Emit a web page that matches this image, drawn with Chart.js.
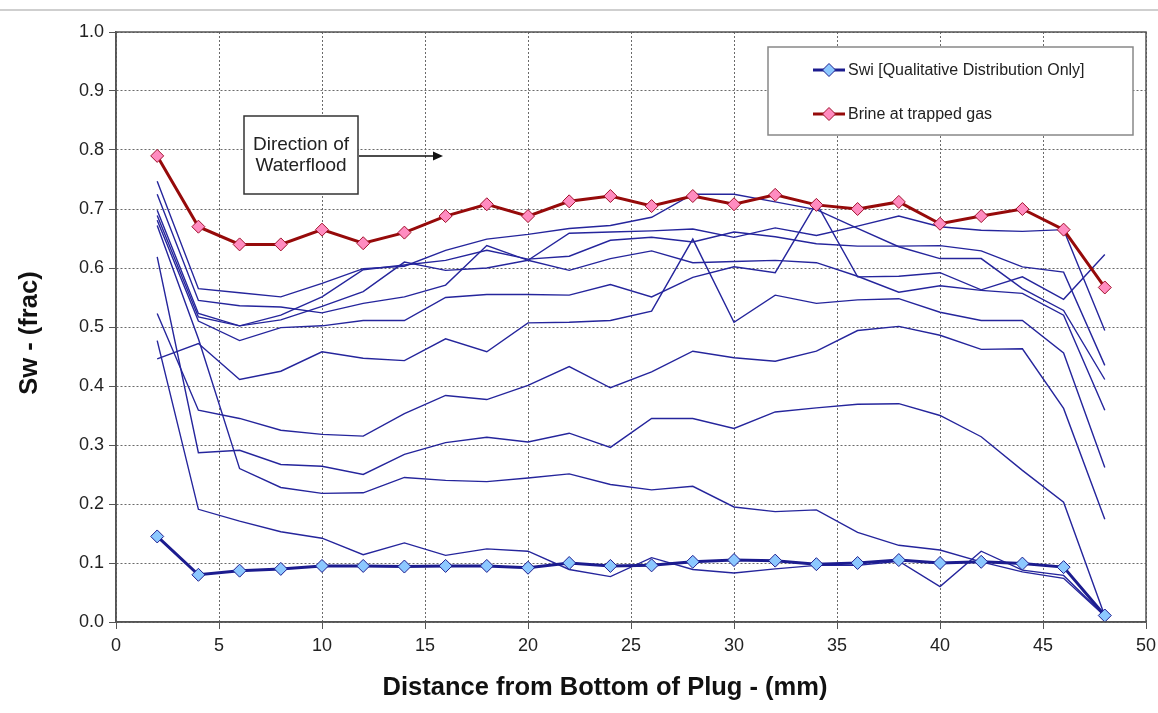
<!DOCTYPE html>
<html><head><meta charset="utf-8">
<script src="https://cdn.jsdelivr.net/npm/chart.js@4"></script>
<style>html,body{margin:0;padding:0;background:#fff;}#wrap{width:1158px;height:713px;position:relative}</style>
</head><body><div id="wrap"><canvas id="c" width="1158" height="713"></canvas></div>
<script>
const distance = [2,4,6,8,10,12,14,16,18,20,22,24,26,28,30,32,34,36,38,40,42,44,46,48];
const swi   = [0.145,0.080,0.087,0.090,0.095,0.095,0.094,0.095,0.095,0.092,0.100,0.095,0.096,0.102,0.105,0.104,0.098,0.100,0.105,0.100,0.102,0.099,0.093,0.011];
const brine = [0.790,0.670,0.640,0.640,0.665,0.642,0.660,0.688,0.708,0.688,0.713,0.722,0.705,0.722,0.708,0.724,0.707,0.700,0.712,0.675,0.688,0.700,0.665,0.567];
const profG = [0.747,0.565,0.558,0.551,0.574,0.599,0.603,0.630,0.649,0.657,0.667,0.672,0.686,0.725,0.725,0.712,0.699,0.667,0.636,0.616,0.616,0.565,0.528,0.411];
const profH = [0.725,0.545,0.536,0.534,0.524,0.540,0.551,0.571,0.638,0.613,0.659,0.661,0.663,0.666,0.652,0.668,0.655,0.671,0.688,0.670,0.664,0.662,0.665,0.494];
const profI = [0.698,0.523,0.502,0.520,0.551,0.597,0.605,0.613,0.630,0.615,0.620,0.647,0.652,0.644,0.661,0.653,0.641,0.637,0.637,0.638,0.629,0.602,0.593,0.435];
const profJ = [0.689,0.517,0.502,0.512,0.535,0.560,0.610,0.596,0.600,0.613,0.596,0.616,0.629,0.609,0.611,0.613,0.609,0.586,0.559,0.570,0.562,0.557,0.520,0.359];
const profB = [0.681,0.510,0.477,0.499,0.502,0.511,0.511,0.550,0.555,0.555,0.554,0.572,0.551,0.584,0.602,0.592,0.710,0.585,0.586,0.592,0.563,0.585,0.547,0.623];
const profF = [0.672,0.480,0.260,0.228,0.218,0.219,0.245,0.240,0.238,0.244,0.251,0.233,0.224,0.230,0.195,0.187,0.190,0.152,0.130,0.122,0.102,0.085,0.074,0.010];
const profA = [0.446,0.472,0.411,0.425,0.458,0.447,0.443,0.480,0.458,0.507,0.508,0.511,0.527,0.649,0.508,0.554,0.540,0.546,0.548,0.525,0.511,0.511,0.456,0.262];
const profC = [0.523,0.359,0.345,0.325,0.318,0.315,0.353,0.384,0.377,0.401,0.433,0.397,0.424,0.459,0.448,0.442,0.459,0.494,0.501,0.486,0.462,0.463,0.362,0.174];
const profD = [0.619,0.287,0.291,0.267,0.264,0.250,0.284,0.304,0.313,0.305,0.320,0.296,0.345,0.345,0.328,0.356,0.363,0.369,0.370,0.350,0.314,0.257,0.203,0.010];
const profE = [0.477,0.191,0.171,0.153,0.142,0.114,0.134,0.113,0.124,0.120,0.089,0.077,0.109,0.089,0.083,0.090,0.096,0.096,0.103,0.060,0.120,0.088,0.079,0.010];
const xTicks = [0,5,10,15,20,25,30,35,40,45,50];
const yTicks = [0,0.1,0.2,0.3,0.4,0.5,0.6,0.7,0.8,0.9,1.0];
const legendLabels = ['Swi [Qualitative Distribution Only]','Brine at trapped gas'];
const noteLines = ['Direction of','Waterflood'];
const xTitle = 'Distance from Bottom of Plug - (mm)';
const yTitle = 'Sw - (frac)';

const FONT = "'Liberation Sans', Arial, sans-serif";
const NAVY = '#1c1c8f';
const THIN = '#25259c';
const pts = arr => distance.map((x,i)=>({x:x,y:arr[i]}));

const thinSets = [profG,profH,profI,profJ,profB,profF,profA,profC,profD,profE].map(a=>({
  data: pts(a), borderColor: THIN, borderWidth: 1.4, pointRadius: 0, fill:false, tension:0, order: 5
}));

const decor = {
  id:'decor',
  beforeDraw(chart){
    const c = chart.ctx;
    c.save();
    c.strokeStyle = '#cfcfcf'; c.lineWidth = 2;
    c.beginPath(); c.moveTo(0,10); c.lineTo(1158,10); c.stroke();
    c.restore();
  },
  afterDraw(chart){
    const c = chart.ctx, a = chart.chartArea;
    c.save();
    c.strokeStyle = '#555'; c.lineWidth = 1.5; c.setLineDash([]);
    c.strokeRect(a.left, a.top, a.right-a.left, a.bottom-a.top);
    // axis titles
    c.fillStyle = '#111'; c.font = 'bold 25.5px ' + FONT; c.textAlign='center'; c.textBaseline='middle';
    c.fillText(xTitle, 605, 688);
    c.save(); c.translate(30, 333); c.rotate(-Math.PI/2); c.fillText(yTitle, 0, 0); c.restore();
    // legend
    c.fillStyle = '#fff'; c.fillRect(768,47,365,88);
    c.strokeStyle = '#888'; c.lineWidth = 1.5; c.strokeRect(768,47,365,88);
    const items = [
      {y:70, line:NAVY, fill:'#8cc8ff', edge:NAVY, text:legendLabels[0]},
      {y:114, line:'#960a0a', fill:'#ff8cc0', edge:'#a0102a', text:legendLabels[1]}
    ];
    items.forEach(it=>{
      c.strokeStyle = it.line; c.lineWidth = 3;
      c.beginPath(); c.moveTo(813,it.y); c.lineTo(845,it.y); c.stroke();
      c.beginPath(); c.moveTo(829,it.y-6.5); c.lineTo(835.5,it.y); c.lineTo(829,it.y+6.5); c.lineTo(822.5,it.y); c.closePath();
      c.fillStyle = it.fill; c.fill(); c.strokeStyle = it.edge; c.lineWidth = 1; c.stroke();
      c.fillStyle = '#222'; c.font = '16px ' + FONT; c.textBaseline = 'middle'; c.textAlign='left';
      c.fillText(it.text, 848, it.y+1);
    });
    // annotation
    c.fillStyle = '#fff'; c.fillRect(244,116,114,78);
    c.strokeStyle = '#333'; c.lineWidth = 1.5; c.strokeRect(244,116,114,78);
    c.fillStyle = '#222'; c.font = '19px ' + FONT; c.textAlign = 'center'; c.textBaseline='middle';
    c.fillText(noteLines[0], 301, 145);
    c.fillText(noteLines[1], 301, 166);
    c.strokeStyle = '#111'; c.lineWidth = 1.5;
    c.beginPath(); c.moveTo(359,156); c.lineTo(436,156); c.stroke();
    c.fillStyle = '#111';
    c.beginPath(); c.moveTo(443,156); c.lineTo(433,151.5); c.lineTo(433,160.5); c.closePath(); c.fill();
    c.restore();
  }
};

new Chart(document.getElementById('c').getContext('2d'), {
  type:'line',
  data:{datasets:[
    {label:legendLabels[0], data:pts(swi), borderColor:NAVY, borderWidth:3, pointStyle:'rectRot', pointRadius:6.5,
     pointBackgroundColor:'#8cc8ff', pointBorderColor:NAVY, pointBorderWidth:1, order:1, tension:0},
    {label:legendLabels[1], data:pts(brine), borderColor:'#960a0a', borderWidth:3, pointStyle:'rectRot', pointRadius:6.5,
     pointBackgroundColor:'#ff8cc0', pointBorderColor:'#a0102a', pointBorderWidth:1, order:0, tension:0},
    ...thinSets
  ]},
  options:{
    responsive:false, animation:false, devicePixelRatio:1,
    layout:{padding:{left:0,top:32,right:12,bottom:0}},
    plugins:{legend:{display:false}, tooltip:{enabled:false}},
    scales:{
      x:{type:'linear', min:0, max:50,
        afterBuildTicks(s){ s.ticks = xTicks.map(v=>({value:v})); },
        afterFit(s){ s.height = 91; s.paddingRight = 0; s.paddingLeft = 0; },
        ticks:{font:{family:FONT,size:18}, color:'#222', padding:6, callback:v=>String(v)},
        grid:{color:'#6a6a6a', lineWidth:1, tickLength:7, tickColor:'#555', tickBorderDash:[]},
        border:{display:true, color:'#555', width:1.5, dash:[2,2]},
        title:{display:false}
      },
      y:{type:'linear', min:0, max:1,
        afterBuildTicks(s){ s.ticks = yTicks.map(v=>({value:v})); },
        afterFit(s){ s.width = 116; s.paddingTop = 0; s.paddingBottom = 0; },
        ticks:{font:{family:FONT,size:18}, color:'#222', padding:5, callback:v=>Number(v).toFixed(1)},
        grid:{color:'#6a6a6a', lineWidth:1, tickLength:7, tickColor:'#555', tickBorderDash:[]},
        border:{display:true, color:'#555', width:1.5, dash:[2,2]},
        title:{display:false}
      }
    }
  },
  plugins:[decor]
});
</script></body></html>
